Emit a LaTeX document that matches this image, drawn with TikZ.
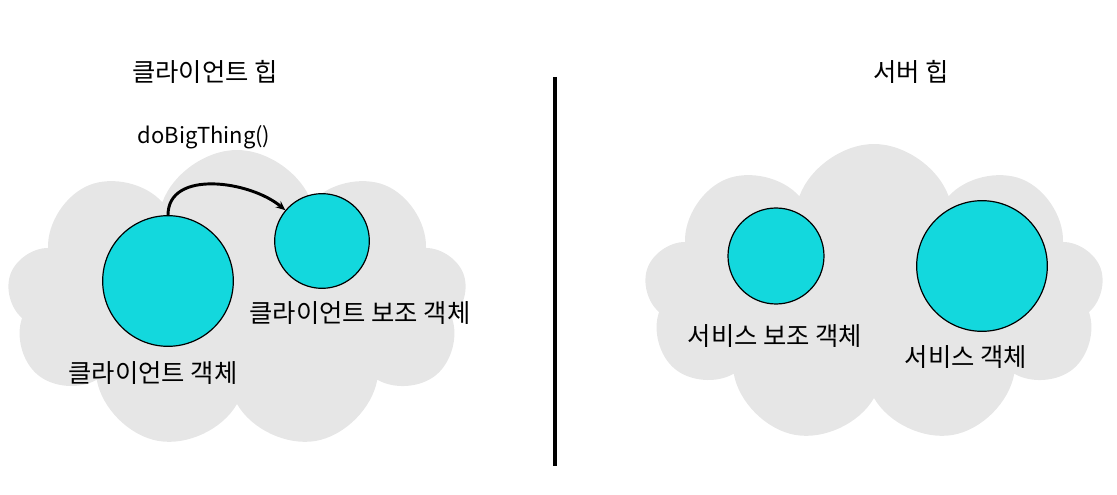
\documentclass[tikz,border=0pt]{standalone}
\usepackage{fontspec}
\setmainfont{Noto Sans CJK KR}
\usetikzlibrary{shapes.symbols,arrows.meta}
\definecolor{heapgray}{RGB}{230,230,230}
\definecolor{objcyan}{RGB}{19,216,221}
\begin{document}
\begin{tikzpicture}[x=.75pt,y=-.75pt,
    heap/.style={cloud,cloud puffs=9,cloud puff arc=140,cloud ignores aspect,fill=heapgray,inner sep=0pt,
      minimum width=345pt,minimum height=225pt},
    obj/.style={circle,draw,fill=objcyan,line width=.9pt,inner sep=0pt},
    lbl/.style={font=\fontsize{19pt}{22pt}\selectfont,inner sep=0pt}]
  \useasboundingbox (0,0) rectangle (1117,495);
  \node[heap] (cheap) at (237,300) {};
  \node[heap] (sheap) at (874,294) {};
  \draw[line width=2.4pt] (555,77)--(555,466);
  \node[lbl] (ctitle) at (205,72) {클라이언트 힙};
  \node[lbl] (stitle) at (911,72) {서버 힙};
  % client side
  \node[obj,minimum size=98pt] (cobj) at (168,281) {};
  \node[obj,minimum size=71pt] (chelp) at (322,241) {};
  \draw[line width=2.2pt,-{Stealth[length=7pt,width=6pt]}] (cobj.north) to[out=90,in=140] (chelp.140);
  \node[lbl,font=\fontsize{16.5pt}{20pt}\selectfont] (call) at (204,137) {doBigThing()};
  \node[lbl] (chelplbl) at (360,313) {클라이언트 보조 객체};
  \node[lbl] (cobjlbl) at (153,373) {클라이언트 객체};
  % server side
  \node[obj,minimum size=72pt] (shelp) at (776,256) {};
  \node[obj,minimum size=98pt] (sobj) at (982,266) {};
  \node[lbl] (shelplbl) at (775,336) {서비스 보조 객체};
  \node[lbl] (sobjlbl) at (966,357) {서비스 객체};
\end{tikzpicture}
\end{document}
